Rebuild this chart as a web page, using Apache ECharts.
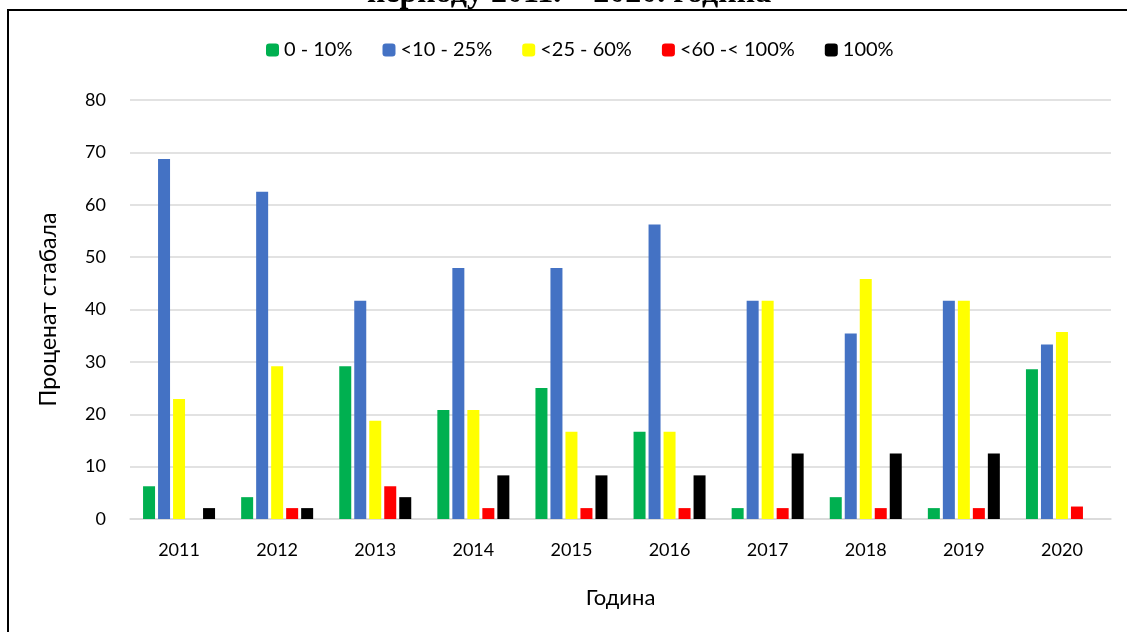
<!DOCTYPE html>
<html>
<head>
<meta charset="UTF-8">
<title>Проценат стабала по годинама</title>
<script src="https://cdn.jsdelivr.net/npm/echarts@6.0.0/dist/echarts.min.js"></script>
<style>
	html, body {
		margin: 0;
		padding: 0;
		background: #fff;
	}
	#main {
		width: 1127px;
		height: 632px;
	}
</style>
</head>
<body>
<div id="main"></div>
<script type="text/javascript">
	// подаци
	var years = ['2011', '2012', '2013', '2014', '2015', '2016', '2017', '2018', '2019', '2020'];
	var names = ['0 - 10%', '<10 - 25%', '<25 - 60%', '<60 -< 100%', '100%'];
	var colors = ['#00b050', '#4472c4', '#ffff00', '#ff0000', '#000000'];

	var s0 = [6.25, 4.17, 29.17, 20.83, 25.00, 16.67, 2.08, 4.17, 2.08, 28.57];
	var s1 = [68.75, 62.50, 41.67, 47.92, 47.92, 56.25, 41.67, 35.42, 41.67, 33.33];
	var s2 = [22.92, 29.17, 18.75, 20.83, 16.67, 16.67, 41.67, 45.83, 41.67, 35.71];
	var s3 = [0, 2.08, 6.25, 2.08, 2.08, 2.08, 2.08, 2.08, 2.08, 2.38];
	var s4 = [2.08, 2.08, 4.17, 8.33, 8.33, 8.33, 12.50, 12.50, 12.50, 0];
	var values = [s0, s1, s2, s3, s4];

	var font = 'Lato, "Open Sans", sans-serif';

	var series = [];
	for (var i = 0; i < names.length; i++) {
		series.push({
			name: names[i],
			type: 'bar',
			data: values[i],
			barWidth: 12,
			barGap: '25%',
			itemStyle: { color: colors[i] }
		});
	}

	var myChart = echarts.init(document.getElementById('main'));
	myChart.setOption({
		animation: false,
		textStyle: { fontFamily: font },
		graphic: [
			{
				type: 'rect',
				shape: { x: 8, y: 10, width: 1130, height: 640 },
				style: { fill: 'none', stroke: '#000', lineWidth: 2 },
				z: 0
			},
			{
				// наслов је одсечен на врху слике
				type: 'text',
				x: 569,
				y: -22,
				style: {
					text: 'периоду 2011. – 2020. година',
					font: 'bold 32px "Liberation Serif", "DejaVu Serif", serif',
					fill: '#000',
					align: 'center',
					verticalAlign: 'top'
				}
			}
		],
		legend: {
			data: names,
			top: 35,
			left: 261,
			itemWidth: 13,
			itemHeight: 13,
			itemGap: 30,
			itemTextGap: 5,
			textStyle: { fontSize: 20, color: '#000', fontFamily: font }
		},
		grid: {
			left: 130,
			right: 16,
			top: 100,
			bottom: 113
		},
		xAxis: {
			type: 'category',
			data: years,
			name: 'Година',
			nameLocation: 'middle',
			nameGap: 68,
			nameTextStyle: { fontSize: 22, color: '#000', fontFamily: font },
			axisTick: { show: false },
			axisLine: { lineStyle: { color: '#d9d9d9', width: 1.5 } },
			axisLabel: { fontSize: 18, color: '#000', margin: 22, fontFamily: font }
		},
		yAxis: {
			type: 'value',
			min: 0,
			max: 80,
			interval: 10,
			name: 'Проценат стабала',
			nameLocation: 'middle',
			nameGap: 70,
			nameTextStyle: { fontSize: 23, color: '#000', fontFamily: font },
			axisLine: { show: false },
			axisTick: { show: false },
			axisLabel: { fontSize: 18, color: '#000', margin: 24, fontFamily: font },
			splitLine: { lineStyle: { color: '#d9d9d9', width: 1.5 } }
		},
		series: series
	});
</script>
</body>
</html>
